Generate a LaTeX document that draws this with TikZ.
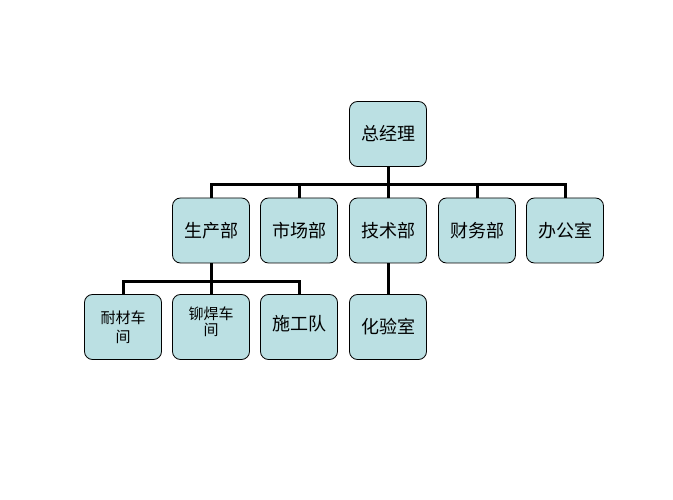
\documentclass[tikz,border=0pt]{standalone}
\usepackage{fontspec}
\setmainfont{Noto Sans CJK SC}
\usepackage{tikz}
\usetikzlibrary{positioning}
\definecolor{boxfill}{HTML}{BBE0E3}
\tikzset{every picture/.style={line width=0.75pt}}
\tikzset{
  unit/.style={draw=black, fill=boxfill, rounded corners=8pt, line width=0.8pt,
    minimum width=77pt, minimum height=65pt, align=center, inner sep=2pt,
    font=\fontsize{18}{22}\selectfont},
  small/.style={font=\fontsize{15}{19}\selectfont},
  link/.style={line width=3pt}
}
\begin{document}
\begin{tikzpicture}[x=1pt,y=-1pt]
\useasboundingbox (0,0) rectangle (673,500);
% top
\node[unit] (gm) at (388,134) {总经理};
% departments
\node[unit] (prod) at (211,230.5) {生产部};
\node[unit] (mkt)  at (299,230.5) {市场部};
\node[unit] (tech) at (388,230.5) {技术部};
\node[unit] (fin)  at (477,230.5) {财务部};
\node[unit] (off)  at (565,230.5) {办公室};
% workshops
\node[unit, small] (nc) at (123,327) {耐材车\\间};
\node[unit, small] (mh) at (211,327) {\raisebox{12pt}{\shortstack{铆焊车\\间}}};
\node[unit] (sg) at (299,327) {\raisebox{9pt}{施工队}};
\node[unit] (hy) at (388,327) {化验室};
% buses
\coordinate (bus1) at (388,185);
\coordinate (bus2) at (211,282);
\draw[link] (gm) -- (bus1);
\foreach \n in {prod,mkt,tech,fin,off}
  \draw[link] (bus1) -| (\n.north);
\draw[link] (prod) -- (bus2);
\foreach \n in {nc,mh,sg}
  \draw[link] (bus2) -| (\n.north);
\draw[link] (tech) -- (hy);
\end{tikzpicture}
\end{document}
